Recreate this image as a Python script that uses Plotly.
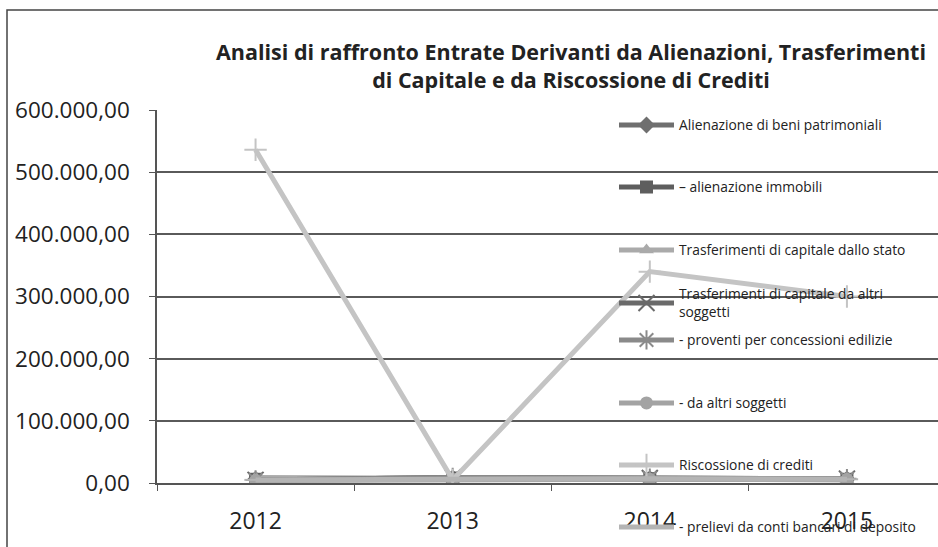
import plotly.graph_objects as go

years = ["2012", "2013", "2014", "2015"]
series_names = [
    "Alienazione di beni patrimoniali",
    "– alienazione immobili",
    "Trasferimenti di capitale dallo stato",
    "Trasferimenti di capitale da altri<br>soggetti",
    "- proventi per concessioni edilizie",
    "- da altri soggetti",
    "Riscossione di crediti",
    "- prelievi da conti bancari di deposito",
]
alienazione_beni = [6000, 8000, 7000, 6000]
alienazione_immobili = [6000, 8000, 7000, 6000]
trasf_stato = [9000, 7000, 6000, 5000]
trasf_altri = [5000, 9000, 8000, 7000]
proventi_edilizie = [5000, 9000, 8000, 7000]
da_altri_soggetti = [4000, 6000, 6000, 6000]
riscossione_crediti = [536000, 5000, 340000, 300000]
prelievi_depositi = [5000, 7000, 7000, 6000]

y_tickvals = [0, 100000, 200000, 300000, 400000, 500000, 600000]
y_ticktext = ["0,00", "100.000,00", "200.000,00", "300.000,00",
              "400.000,00", "500.000,00", "600.000,00"]

all_values = [alienazione_beni, alienazione_immobili, trasf_stato, trasf_altri,
              proventi_edilizie, da_altri_soggetti, riscossione_crediti, prelievi_depositi]
colors = ["#6f6f6f", "#5e5e5e", "#aaaaaa", "#6a6a6a", "#8a8a8a", "#a3a3a3", "#c4c4c4", "#b4b4b4"]
symbols = ["diamond", "square", "triangle-up", "x-thin", "asterisk", "circle", "cross-thin", "line-ew"]

# legend row centres (pixels from top of page)
legend_rows_px = [125, 187, 250, 303, 340, 403, 465, 527]

PLOT_L, PLOT_R, PLOT_T, PLOT_B = 157, 938, 110, 483
PW, PH = PLOT_R - PLOT_L, PLOT_B - PLOT_T

font_family = "Open Sans, Lato, sans-serif"

fig = go.Figure()
legend_layouts = {}
for i, (name, vals) in enumerate(zip(series_names, all_values)):
    sym = symbols[i]
    thin = sym in ("x-thin", "asterisk", "cross-thin", "line-ew")
    lname = "legend" if i == 0 else f"legend{i + 1}"
    fig.add_trace(go.Scatter(
        x=years, y=vals, name=name, mode="lines+markers",
        legend=lname,
        line=dict(color=colors[i], width=5),
        marker=dict(symbol=sym, size=16 if thin else 13, color=colors[i],
                    line=dict(color=colors[i], width=2 if thin else 0)),
    ))
    legend_layouts[lname] = dict(
        x=(614 - PLOT_L) / PW, y=(PLOT_B - legend_rows_px[i]) / PH,
        xanchor="left", yanchor="middle",
        bgcolor="rgba(0,0,0,0)", font=dict(size=13.8, color="#222", family=font_family),
        itemwidth=55,
    )

fig.update_layout(
    width=938, height=547,
    paper_bgcolor="white", plot_bgcolor="white",
    margin=dict(l=PLOT_L, r=938 - PLOT_R, t=PLOT_T, b=547 - PLOT_B, autoexpand=False),
    font=dict(family=font_family, color="#222"),
    title=dict(
        text="<b>Analisi di raffronto Entrate Derivanti da Alienazioni, Trasferimenti<br>di Capitale e da Riscossione di Crediti</b>",
        x=571 / 938, xanchor="center", xref="container",
        y=1 - 60 / 547, yanchor="middle",
        font=dict(size=21.5, color="#222", family=font_family),
    ),
    showlegend=True,
    xaxis=dict(
        type="category", range=[-0.5, 3.462],
        tickson="boundaries", ticks="outside", ticklen=6, tickcolor="#555",
        showgrid=False, showline=True, linecolor="#555", linewidth=1.5,
        tickfont=dict(size=23, color="#222"),
        ticklabelstandoff=17, automargin=False,
    ),
    yaxis=dict(
        range=[0, 600000], tickvals=y_tickvals, ticktext=y_ticktext,
        ticks="outside", ticklen=6, tickcolor="#555",
        showgrid=True, gridcolor="#5a5a5a", gridwidth=1.5,
        showline=True, linecolor="#555", linewidth=1.5,
        tickfont=dict(size=22.5, color="#222"),
        ticklabelstandoff=15, zeroline=False, automargin=False,
    ),
    shapes=[dict(type="rect", xref="paper", yref="paper",
                 x0=(7 - PLOT_L) / PW, x1=1.01, y0=-0.25, y1=1 + (PLOT_T - 10) / PH,
                 line=dict(color="#444", width=1.5), fillcolor="rgba(0,0,0,0)", layer="below")],
    **legend_layouts,
)

fig.write_html("out.html", config={"displayModeBar": False},
               post_script="document.body.style.margin='0';document.body.style.overflow='hidden';")
